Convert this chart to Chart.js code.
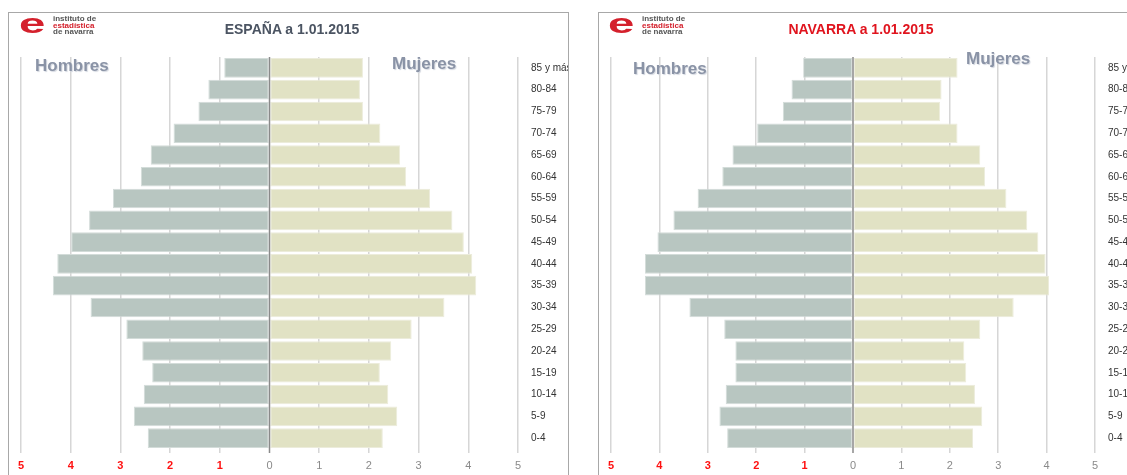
<!DOCTYPE html>
<html>
<head>
<meta charset="utf-8">
<script src="https://cdn.jsdelivr.net/npm/chart.js@4"></script>
<style>
  body { margin: 0; width: 1127px; height: 475px; overflow: hidden; background: #fff; font-family: "Liberation Sans", Arial, sans-serif; }
  .panel { position: absolute; top: 12px; height: 480px; border: 1px solid #a8a8a8; border-bottom: none; background: #fff; }
  .panel canvas { position: absolute; left: 0; top: 0; }
  .title { position: absolute; font: bold 14px "Liberation Sans", Arial, sans-serif; white-space: nowrap; transform: translateX(-50%); }
  .sex { position: absolute; font: bold 17px "Liberation Sans", Arial, sans-serif; color: #8a93a6; text-shadow: 1px 1px 1px #d4d8e0; }
  .logo { position: absolute; height: 20px; }
  .logo .e { position: absolute; left: 0; top: -5px; font: bold 27px/27px "Liberation Sans", Arial, sans-serif; color: #d4202c; transform: scaleX(1.75); transform-origin: left top; }
  .logo .txt { position: absolute; left: 34px; top: 0; font: bold 8px/6.5px "Liberation Sans", Arial, sans-serif; color: #555; white-space: nowrap; }
  .logo .txt b { color: #d4202c; }
</style>
</head>
<body>
<div class="panel" style="left:8px;width:559px;"><canvas id="chartEsp"></canvas></div>
<div class="panel" style="left:598px;width:560px;"><canvas id="chartNav"></canvas></div>

<div class="logo" style="left:19px;top:16px;"><span class="e">e</span><div class="txt">instituto de<br><b>estadística</b><br>de navarra</div></div>
<div class="logo" style="left:608px;top:16px;"><span class="e">e</span><div class="txt">instituto de<br><b>estadística</b><br>de navarra</div></div>

<div class="title" style="left:292px;top:21px;color:#4b5462;">ESPAÑA a 1.01.2015</div>
<div class="title" style="left:861px;top:21px;color:#e0141e;">NAVARRA a 1.01.2015</div>

<div class="sex" style="left:35px;top:56px;">Hombres</div>
<div class="sex" style="left:392px;top:54px;">Mujeres</div>
<div class="sex" style="left:633px;top:59px;">Hombres</div>
<div class="sex" style="left:966px;top:49px;">Mujeres</div>

<script>
// age groups, top to bottom
const ageGroups = ['85 y más', '80-84', '75-79', '70-74', '65-69', '60-64', '55-59', '50-54', '45-49',
  '40-44', '35-39', '30-34', '25-29', '20-24', '15-19', '10-14', '5-9', '0-4'];

// % of total population
const espHombres = [0.91, 1.23, 1.43, 1.93, 2.39, 2.59, 3.15, 3.63, 3.99, 4.27, 4.36, 3.60, 2.88, 2.56, 2.36, 2.53, 2.73, 2.45];
const espMujeres = [1.88, 1.82, 1.88, 2.23, 2.63, 2.75, 3.23, 3.68, 3.91, 4.08, 4.16, 3.52, 2.86, 2.45, 2.22, 2.39, 2.57, 2.28];
const navHombres = [1.03, 1.27, 1.45, 1.98, 2.49, 2.70, 3.21, 3.71, 4.04, 4.30, 4.30, 3.38, 2.66, 2.43, 2.43, 2.63, 2.76, 2.60];
const navMujeres = [2.16, 1.83, 1.80, 2.16, 2.63, 2.73, 3.17, 3.60, 3.83, 3.98, 4.05, 3.32, 2.63, 2.30, 2.34, 2.52, 2.67, 2.48];

const axisMax = 5;

// dark line at 0 drawn over the bars
const zeroLine = {
  id: 'zeroLine',
  afterDatasetsDraw(chart) {
    const x = chart.scales.x.getPixelForValue(0);
    const ctx = chart.ctx;
    ctx.save();
    ctx.strokeStyle = '#8a8a8a';
    ctx.lineWidth = 1.5;
    ctx.beginPath();
    ctx.moveTo(x, chart.chartArea.top);
    ctx.lineTo(x, chart.chartArea.bottom + 4);
    ctx.stroke();
    ctx.restore();
  }
};

function pyramid(id, width, hombres, mujeres) {
  const canvas = document.getElementById(id);
  canvas.width = width;
  canvas.height = 462;
  canvas.style.width = width + 'px';
  canvas.style.height = '462px';

  return new Chart(canvas.getContext('2d'), {
    type: 'bar',
    data: {
      labels: ageGroups,
      datasets: [
        {
          label: 'Hombres',
          data: hombres.map(v => -v),
          backgroundColor: '#b8c6c1',
          borderColor: '#d3dcd9',
          borderWidth: 1,
          borderSkipped: false,
          barPercentage: 0.9,
          categoryPercentage: 1
        },
        {
          label: 'Mujeres',
          data: mujeres,
          backgroundColor: '#e1e2c4',
          borderColor: '#ececdb',
          borderWidth: 1,
          borderSkipped: false,
          barPercentage: 0.9,
          categoryPercentage: 1
        }
      ]
    },
    options: {
      indexAxis: 'y',
      responsive: false,
      animation: false,
      layout: { padding: { left: 12, top: 44, right: 0, bottom: 0 } },
      scales: {
        x: {
          stacked: true,
          min: -axisMax,
          max: axisMax,
          afterFit: s => { s.height = 26; },
          grid: {
            color: ctx => ctx.tick && ctx.tick.value === 0 ? 'rgba(0,0,0,0)' : '#d6d6d6',
            lineWidth: 1.5,
            drawTicks: true,
            tickLength: 4
          },
          border: { display: false },
          ticks: {
            stepSize: 1,
            padding: 6,
            maxRotation: 0,
            callback: v => Math.abs(v),
            color: ctx => ctx.tick.value < 0 ? '#ff1010' : '#8a8a8a',
            font: ctx => ({
              family: '"Liberation Sans", Arial, sans-serif',
              size: 11,
              weight: ctx.tick && ctx.tick.value < 0 ? 'bold' : 'normal'
            })
          }
        },
        y: {
          stacked: true,
          position: 'right',
          afterFit: s => { s.width = 50; },
          grid: { display: false },
          border: { display: false },
          ticks: {
            padding: 5,
            crossAlign: 'near',
            color: '#333',
            font: { family: '"Liberation Sans", Arial, sans-serif', size: 10 }
          }
        }
      },
      plugins: {
        legend: { display: false },
        title: { display: false },
        tooltip: { enabled: false }
      }
    },
    plugins: [zeroLine]
  });
}

pyramid('chartEsp', 559, espHombres, espMujeres);
pyramid('chartNav', 546, navHombres, navMujeres);
</script>
</body>
</html>
